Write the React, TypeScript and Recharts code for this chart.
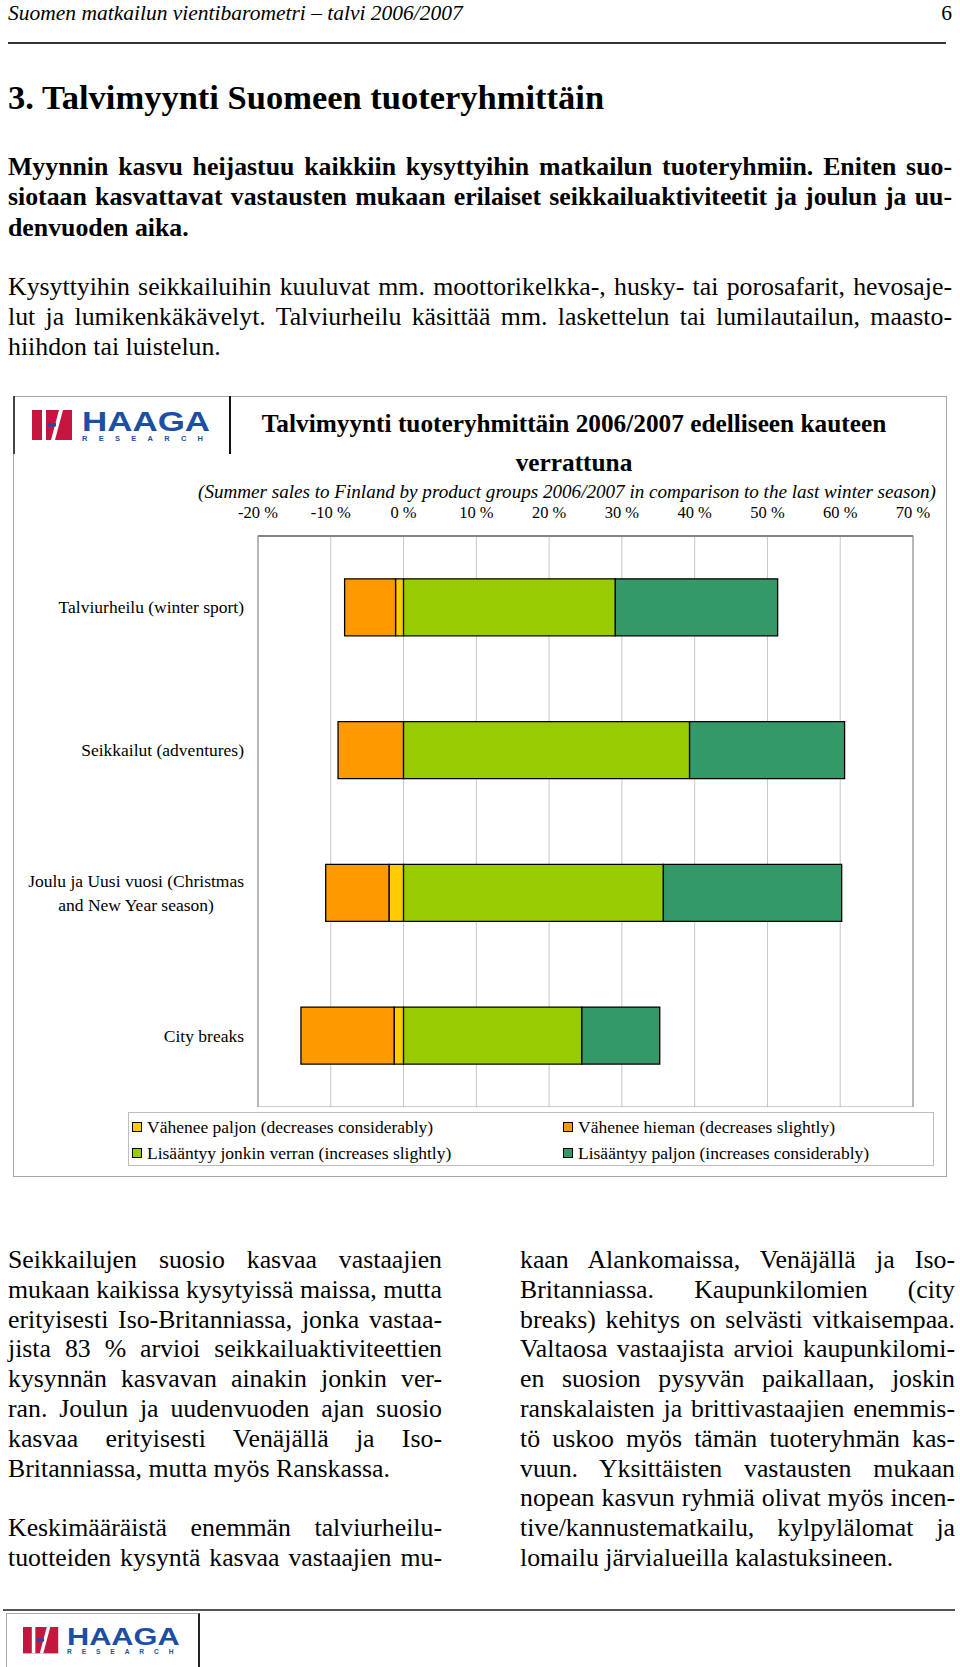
import React from 'react';
import { Bar, BarChart, CartesianGrid, ReferenceArea, XAxis, YAxis } from 'recharts';

// product groups (y categories), top to bottom
const GROUPS = [
  'Talviurheilu (winter sport)',
  'Seikkailut (adventures)',
  'Joulu ja Uusi vuosi (Christmas\nand New Year season)',
  'City breaks',
];
// share of answers, % (decreases are negative so they stack to the left of zero)
const DECREASE_MUCH = [-1.1, 0, -2.0, -1.3];
const DECREASE_LITTLE = [-7.0, -9.0, -8.7, -12.8];
const INCREASE_LITTLE = [29.1, 39.3, 35.7, 24.5];
const INCREASE_MUCH = [22.3, 21.3, 24.5, 10.7];
const X_TICKS = [-20, -10, 0, 10, 20, 30, 40, 50, 60, 70];

const SERIES = [
  { key: 'decMuch', name: 'Vähenee paljon (decreases considerably)', color: '#FFCC00' },
  { key: 'decLittle', name: 'Vähenee hieman (decreases slightly)', color: '#FF9900' },
  { key: 'incLittle', name: 'Lisääntyy jonkin verran (increases slightly)', color: '#99CC00' },
  { key: 'incMuch', name: 'Lisääntyy paljon (increases considerably)', color: '#339966' },
];

const INTRO_BOLD = [
  'Myynnin kasvu heijastuu kaikkiin kysyttyihin matkailun tuoteryhmiin.  Eniten suo-',
  'siotaan kasvattavat vastausten mukaan erilaiset seikkailuaktiviteetit ja joulun ja uu-',
  'denvuoden aika.',
];
const INTRO = [
  'Kysyttyihin seikkailuihin kuuluvat mm. moottorikelkka-, husky- tai porosafarit, hevosaje-',
  'lut ja lumikenkäkävelyt. Talviurheilu käsittää mm. laskettelun tai lumilautailun, maasto-',
  'hiihdon tai luistelun.',
];
const LEFT_COL = [
  'Seikkailujen suosio kasvaa vastaajien',
  'mukaan kaikissa kysytyissä maissa, mutta',
  'erityisesti Iso-Britanniassa, jonka vastaa-',
  'jista 83 % arvioi seikkailuaktiviteettien',
  'kysynnän kasvavan ainakin jonkin ver-',
  'ran. Joulun ja uudenvuoden ajan suosio',
  'kasvaa erityisesti Venäjällä ja Iso-',
  'Britanniassa, mutta myös Ranskassa.',
  '',
  'Keskimääräistä enemmän talviurheilu-',
  'tuotteiden kysyntä kasvaa vastaajien mu-',
];
const RIGHT_COL = [
  'kaan Alankomaissa, Venäjällä ja Iso-',
  'Britanniassa. Kaupunkilomien (city',
  'breaks) kehitys on selvästi vitkaisempaa.',
  'Valtaosa vastaajista arvioi kaupunkilomi-',
  'en suosion pysyvän paikallaan, joskin',
  'ranskalaisten ja brittivastaajien enemmis-',
  'tö uskoo myös tämän tuoteryhmän kas-',
  'vuun. Yksittäisten vastausten mukaan',
  'nopean kasvun ryhmiä olivat myös incen-',
  'tive/kannustematkailu, kylpylälomat ja',
  'lomailu järvialueilla kalastuksineen.',
];

const SERIF = '"Liberation Serif", "Times New Roman", serif';
const SANS = '"Liberation Sans", Arial, sans-serif';

const data = GROUPS.map((group, i) => ({
  group,
  decMuch: DECREASE_MUCH[i],
  decLittle: DECREASE_LITTLE[i],
  incLittle: INCREASE_LITTLE[i],
  incMuch: INCREASE_MUCH[i],
}));

let measureCtx: CanvasRenderingContext2D | null = null;
function measure(text: string, font: string): number {
  if (!measureCtx) measureCtx = document.createElement('canvas').getContext('2d');
  if (!measureCtx) return text.length * 8;
  measureCtx.font = font;
  return measureCtx.measureText(text).width;
}

type TProps = {
  left: number;
  cy: number;
  width: number;
  size: number;
  bold?: boolean;
  italic?: boolean;
  align?: 'left' | 'right' | 'center' | 'justify';
  lh?: number;
  children: React.ReactNode;
};

// one absolutely placed line of text, cy = vertical centre of the line
function T({ left, cy, width, size, bold, italic, align = 'left', lh = 30, children }: TProps) {
  return (
    <div
      style={{
        position: 'absolute',
        left,
        top: cy - lh / 2,
        width,
        height: lh,
        lineHeight: `${lh}px`,
        fontSize: size,
        fontWeight: bold ? 700 : 400,
        fontStyle: italic ? 'italic' : 'normal',
        fontFamily: SERIF,
        color: '#000',
        whiteSpace: 'nowrap',
        textAlign: align,
        textAlignLast: align === 'justify' ? 'justify' : undefined,
      }}
    >
      {children}
    </div>
  );
}

function Paragraph({ lines, left, top, width, size, bold, step = 29.8 }: {
  lines: string[]; left: number; top: number; width: number; size: number; bold?: boolean; step?: number;
}) {
  return (
    <>
      {lines.map((line, i) => {
        if (!line) return null;
        const endOfPara = (i === lines.length - 1 || !lines[i + 1]) && line.endsWith('.');
        return (
          <T key={i} left={left} cy={top + i * step} width={width} size={size} bold={bold}
            align={endOfPara ? 'left' : 'justify'}>
            {line}
          </T>
        );
      })}
    </>
  );
}

function Logo({ x, y, scale }: { x: number; y: number; scale: number }) {
  const red = '#C4163F';
  const blue = '#1C4FA3';
  return (
    <svg style={{ position: 'absolute', left: x, top: y, overflow: 'visible' }} width={180 * scale} height={32 * scale}>
      <g transform={`scale(${scale})`}>
        <rect x={0} y={0} width={40} height={30} fill={red} />
        <rect x={10} y={0} width={4} height={30} fill="#fff" />
        <polygon points="27,0 31,0 23,30 19,30" fill="#fff" />
        <rect x={15} y={13} width={9} height={3.5} fill={blue} />
        <text x={50} y={20.5} fontFamily={SANS} fontWeight={700} fontSize={28} fill={blue}
          textLength={128} lengthAdjust="spacingAndGlyphs">HAAGA</text>
        <text x={50} y={31} fontFamily={SANS} fontWeight={900} fontSize={7.5} fill={blue}
          textLength={121} lengthAdjust="spacing">RESEARCH</text>
      </g>
    </svg>
  );
}

function PctTick(props: any) {
  const { x, y, payload } = props;
  return (
    <text x={x} y={y - 24} textAnchor="middle" dominantBaseline="central"
      fontFamily={SERIF} fontSize={16.5} fill="#000">
      {`${payload.value} %`}
    </text>
  );
}

const CAT_FONT = 17.5;
function CategoryTick(props: any) {
  const { x, y, payload } = props;
  const lines = String(payload.value).split('\n');
  const blockW = Math.max(...lines.map((l) => measure(l, `${CAT_FONT}px ${SERIF}`)));
  const lh = 24;
  const y0 = y - ((lines.length - 1) * lh) / 2;
  const multi = lines.length > 1;
  return (
    <g>
      {lines.map((l, i) => (
        <text key={i} x={multi ? x - blockW / 2 : x} y={y0 + i * lh}
          textAnchor={multi ? 'middle' : 'end'} dominantBaseline="central"
          fontFamily={SERIF} fontSize={CAT_FONT} fill="#000">
          {l}
        </text>
      ))}
    </g>
  );
}

function SalesChart() {
  return (
    <div style={{ position: 'absolute', left: 0, top: 500 }}>
      <BarChart
        width={960}
        height={607}
        data={data}
        layout="vertical"
        stackOffset="sign"
        barCategoryGap="30%"
        margin={{ top: 0, right: 47, bottom: 0, left: 0 }}
      >
        <CartesianGrid horizontal={false} stroke="#c6c6c6" strokeWidth={1} />
        <ReferenceArea x1={-20} x2={70} fill="none" stroke="#9a9a9a" strokeWidth={1.2} />
        <XAxis
          type="number"
          orientation="top"
          domain={[-20, 70]}
          ticks={X_TICKS}
          allowDataOverflow
          height={36}
          tickSize={0}
          tickMargin={0}
          axisLine={{ stroke: '#858585', strokeWidth: 2 }}
          tick={<PctTick />}
        />
        <YAxis
          type="category"
          dataKey="group"
          width={258}
          tickSize={0}
          tickMargin={14}
          axisLine={false}
          tickLine={false}
          tick={<CategoryTick />}
          interval={0}
        />
        {SERIES.map((s) => (
          <Bar
            key={s.key}
            dataKey={s.key}
            name={s.name}
            stackId="s"
            fill={s.color}
            stroke="#000"
            strokeWidth={1.3}
            isAnimationActive={false}
          />
        ))}
      </BarChart>
    </div>
  );
}

function ChartLegend() {
  const left = 128;
  return (
    <div style={{ position: 'absolute', left, top: 1112, width: 934 - left, height: 54, border: '1px solid #bdbdbd', boxSizing: 'border-box' }}>
      {SERIES.map((s, i) => {
        const col = i % 2;
        const row = Math.floor(i / 2);
        const sx = (col === 0 ? 131 : 562) - left;
        const cy = row === 0 ? 14 : 39.5;
        return (
          <React.Fragment key={s.key}>
            <div style={{ position: 'absolute', left: sx, top: cy - 5, width: 10, height: 10, background: s.color, border: '1px solid #000', boxSizing: 'border-box' }} />
            <T left={sx + 15} cy={cy} width={380} size={17.5} lh={22}>{s.name}</T>
          </React.Fragment>
        );
      })}
    </div>
  );
}

export default function App() {
  return (
    <div style={{ position: 'relative', width: 960, height: 1667, background: '#fff', overflow: 'hidden' }}>
      <style>{'body{margin:0;background:#fff}'}</style>

      <T left={8} cy={13} width={520} size={21.5} italic lh={26}>Suomen matkailun vientibarometri – talvi 2006/2007</T>
      <T left={852} cy={13} width={100} size={21.5} align="right" lh={26}>6</T>
      <div style={{ position: 'absolute', left: 8, top: 42, width: 938, height: 1.5, background: '#333' }} />

      <T left={8} cy={97} width={760} size={34.5} bold lh={40}>3. Talvimyynti Suomeen tuoteryhmittäin</T>

      <Paragraph lines={INTRO_BOLD} left={8} top={167} width={944} size={25.8} bold step={30.3} />
      <Paragraph lines={INTRO} left={8} top={287} width={944} size={25.8} step={30} />

      {/* chart frame */}
      <div style={{ position: 'absolute', left: 13, top: 396, width: 934, height: 781, border: '1.5px solid #a6a6a6', boxSizing: 'border-box' }} />
      <div style={{ position: 'absolute', left: 13, top: 396, width: 1.5, height: 58, background: '#444' }} />
      <div style={{ position: 'absolute', left: 229, top: 396, width: 2, height: 58, background: '#111' }} />
      <Logo x={32} y={410} scale={1} />

      <T left={234} cy={423} width={680} size={25.3} bold align="center" lh={32}>
        Talvimyynti tuoteryhmittäin 2006/2007 edelliseen kauteen
      </T>
      <T left={234} cy={462} width={680} size={25.3} bold align="center" lh={32}>verrattuna</T>
      <T left={196} cy={492} width={742} size={19.1} italic align="center" lh={24}>
        (Summer sales to Finland by product groups 2006/2007 in comparison to the last winter season)
      </T>

      <SalesChart />
      <ChartLegend />

      <Paragraph lines={LEFT_COL} left={8} top={1260} width={434} size={25.8} />
      <Paragraph lines={RIGHT_COL} left={520} top={1260} width={435} size={25.8} />

      {/* footer */}
      <div style={{ position: 'absolute', left: 3, top: 1609, width: 952, height: 2, background: '#555' }} />
      <div style={{ position: 'absolute', left: 6, top: 1613, width: 194, height: 60, border: '1px solid #aaa', borderRight: '2px solid #222', boxSizing: 'border-box' }} />
      <Logo x={22.5} y={1627} scale={0.88} />
    </div>
  );
}
